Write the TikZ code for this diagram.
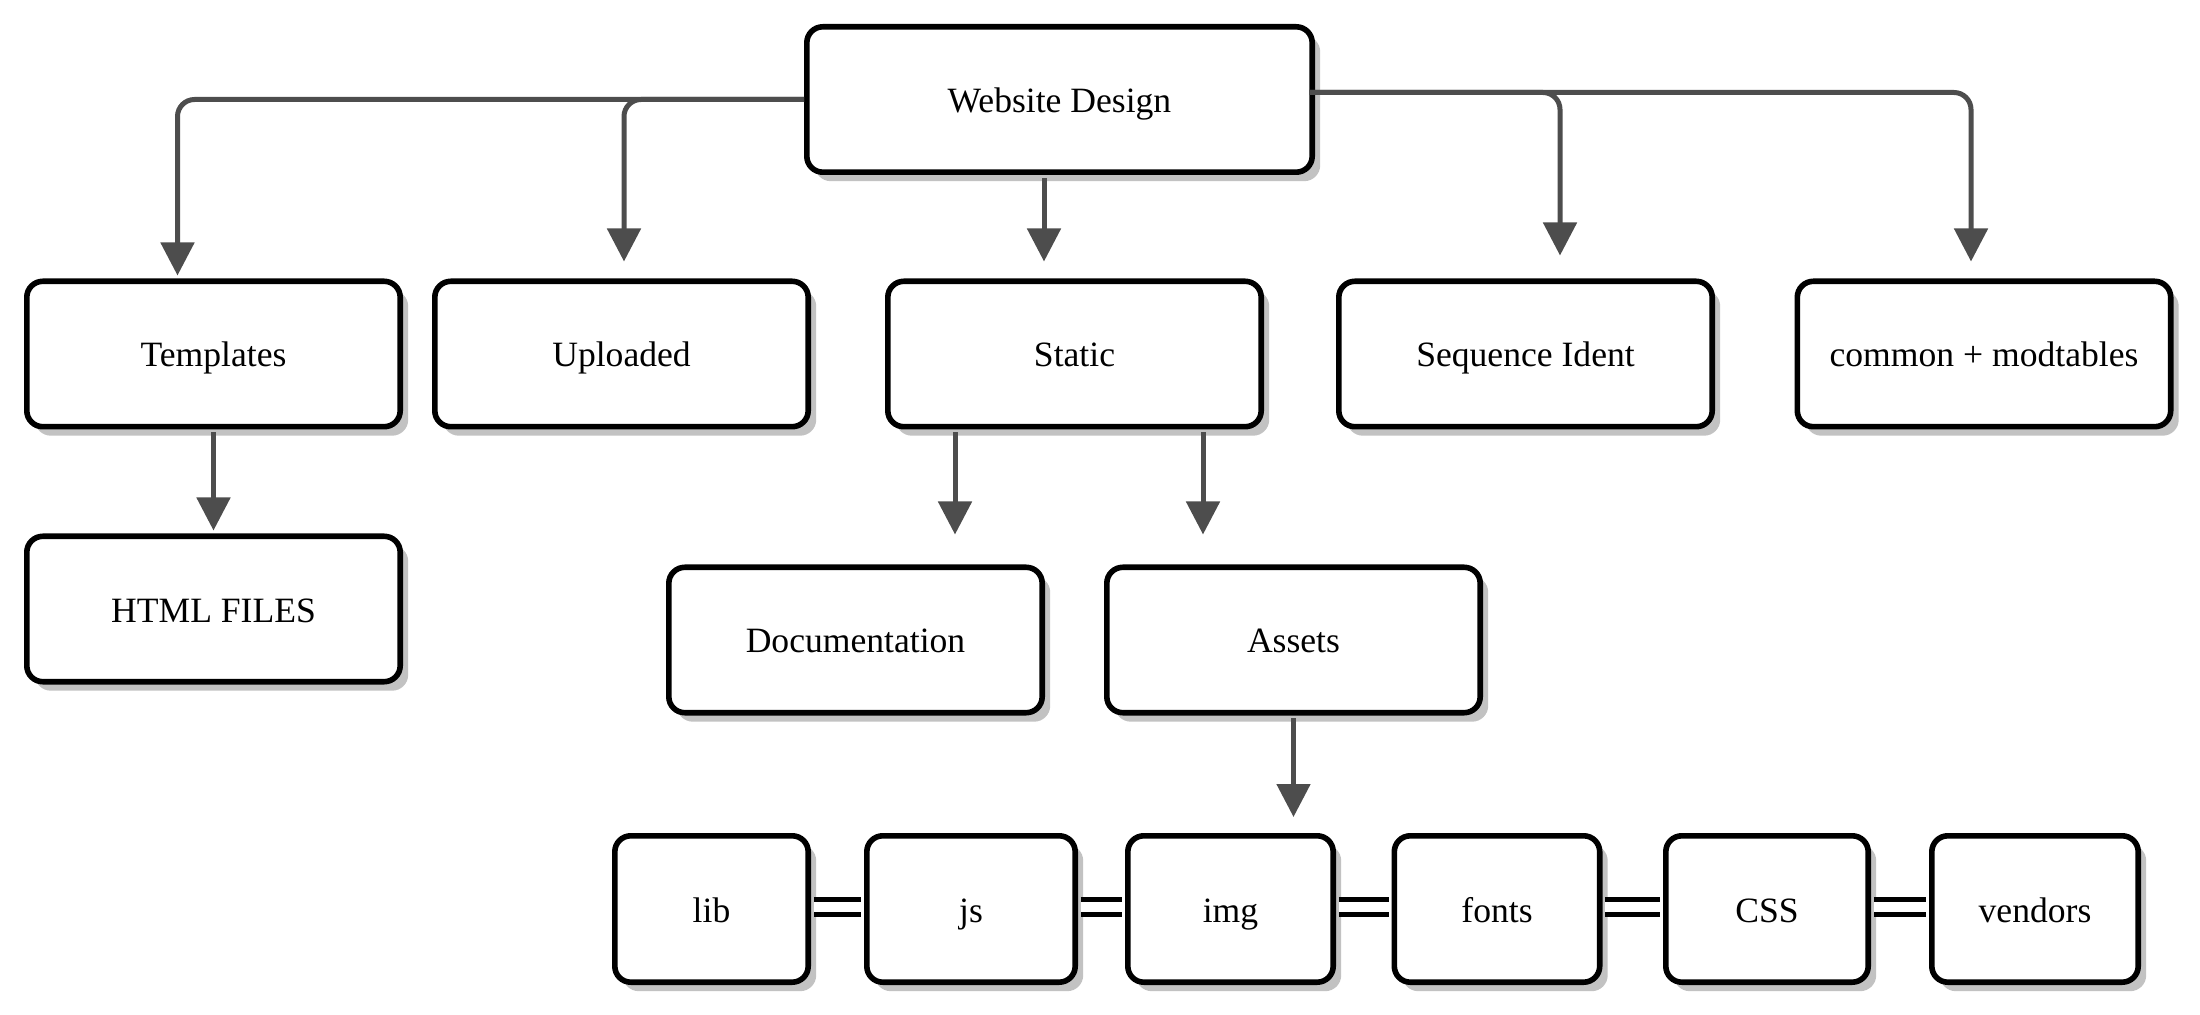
\documentclass[tikz,border=0pt]{standalone}
\usepackage{fontspec}
\setmainfont{Liberation Serif}
\usetikzlibrary{arrows.meta,calc,shadows}
\definecolor{arrgray}{HTML}{4D4D4D}
\definecolor{shadowgray}{HTML}{C2C2C2}
\tikzset{
  box/.style={draw=black, line width=2.8pt, rounded corners=8pt, fill=white,
    minimum width=186.7pt, minimum height=72.7pt, inner sep=0pt,
    text height=17pt, text depth=4pt,
    drop shadow={shadow xshift=4pt, shadow yshift=-4.5pt, fill=shadowgray, opacity=1},
    font=\fontsize{17.8}{21}\selectfont},
  arr/.style={draw=arrgray, line width=2.5pt, rounded corners=8.5pt,
    -{Triangle[length=16.5pt,width=16.5pt]}},
  link/.style={draw=black, double=white, line width=2.5pt, double distance=4.7pt,
    shorten <=1.4pt, shorten >=1.4pt}
}
\begin{document}
\begin{tikzpicture}[x=0.5pt,y=-0.5pt]
        \useasboundingbox (0,0) rectangle (2200,1015);
        % Top
        \node[box, minimum width=252.7pt] (web) at (1059.5,99.5) {Website Design};
        % Second row
        \node[box] (tmpl) at (213.5,354) {Templates};
        \node[box] (upl) at (621.5,354) {Uploaded};
        \node[box] (stat) at (1074.5,354) {Static};
        \node[box] (seq) at (1525.5,354) {Sequence Ident};
        \node[box] (comm) at (1984,354) {common + modtables};
        % Third row
        \node[box] (html) at (213.5,609) {HTML FILES};
        \node[box] (doc) at (855.5,640) {Documentation};
        \node[box] (ast) at (1293.5,640) {Assets};
        % Bottom row
        \node[box, minimum width=96.7pt, minimum height=73.2pt] (lib) at (711.5,909) {lib};
        \node[box, minimum width=104.2pt, minimum height=73.2pt] (js) at (971,909) {js};
        \node[box, minimum width=102.7pt, minimum height=73.2pt] (img) at (1230.5,909) {img};
        \node[box, minimum width=102.7pt, minimum height=73.2pt] (fonts) at (1497,909) {fonts};
        \node[box, minimum width=101.2pt, minimum height=73.2pt] (css) at (1767,909) {CSS};
        \node[box, minimum width=103.2pt, minimum height=73.2pt] (vend) at (2035,909) {vendors};
        % Arrows from the top box
        \draw[arr, shorten >=1.5pt] (web.west) -| ($(tmpl.north)+(-36,0)$);
        \draw[arr, shorten >=8.5pt] (web.west) -| ($(upl.north)+(2.5,0)$);
        \coordinate (ws) at ($(web.south)+(-15.5,0)$);
        \draw[arr, shorten <=1.4pt, shorten >=8.5pt] (ws) -- (ws |- stat.north);
        \draw[arr, shorten >=11.5pt] ($(web.east)+(-6,-7)$) -| ($(seq.north)+(34.5,0)$);
        \draw[arr, shorten >=8.5pt] ($(web.east)+(-6,-7)$) -| ($(comm.north)+(-13,0)$);
        % Lower arrows
        \draw[arr, shorten <=1.4pt, shorten >=1.5pt] (tmpl.south) -- (html.north);
        \coordinate (sd) at ($(stat.south)+(-119.5,0)$);
        \draw[arr, shorten <=1.4pt, shorten >=15pt] (sd) -- (sd |- doc.north);
        \coordinate (sa) at ($(stat.south)+(128.5,0)$);
        \draw[arr, shorten <=1.4pt, shorten >=15pt] (sa) -- (sa |- ast.north);
        \coordinate (ai) at ($(ast.south)+(0,0)$);
        \draw[arr, shorten <=1.4pt, shorten >=8pt] (ai) -- (ai |- img.north);
        % Double links
        \foreach \a/\b in {lib/js, js/img, img/fonts, fonts/css, css/vend}
          \draw[link] ($(\a.east)+(0,-2)$) -- ($(\b.west)+(0,-2)$);
\end{tikzpicture}
\end{document}
